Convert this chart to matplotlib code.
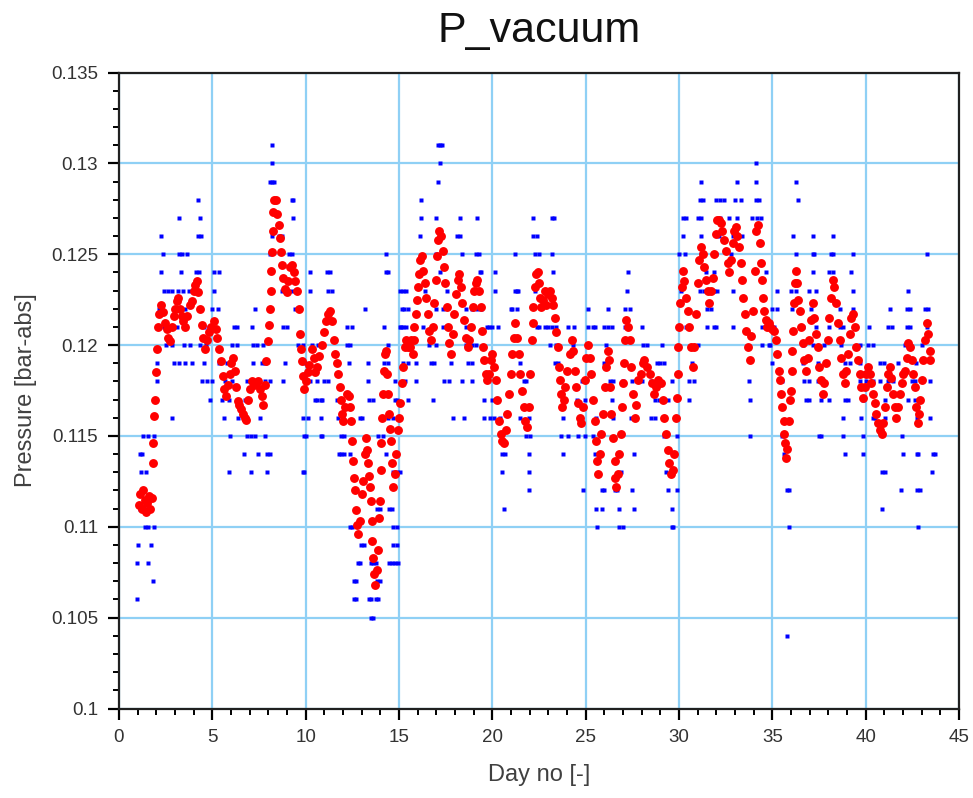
import numpy as np
import matplotlib
matplotlib.use("Agg")
import matplotlib.pyplot as plt
from matplotlib.ticker import MultipleLocator

plt.rcParams['font.family'] = ['Liberation Sans', 'DejaVu Sans']

# smoothed signal (red)
red_day = [
    1.05, 1.15, 1.22, 1.30, 1.38, 1.45, 1.52, 1.60, 1.68, 1.75, 1.80, 1.84, 1.88, 1.95, 2.00, 2.03,
    2.08, 2.15, 2.25, 2.35, 2.45, 2.55, 2.65, 2.73, 2.82, 2.92, 3.00, 3.10, 3.18, 3.28, 3.38, 3.45,
    3.55, 3.65, 3.78, 3.90, 4.00, 4.08, 4.18, 4.25, 4.33, 4.42, 4.52, 4.62, 4.72, 4.82, 4.95, 5.08,
    5.18, 5.27, 5.36, 5.45, 5.55, 5.64, 5.73, 5.82, 5.92, 6.02, 6.10, 6.20, 6.28, 6.36, 6.45, 6.55,
    6.65, 6.75, 6.82, 6.92, 7.00, 7.10, 7.22, 7.35, 7.45, 7.55, 7.65, 7.73, 7.82, 7.90, 7.97, 8.03,
    8.08, 8.12, 8.15, 8.19, 8.23, 8.27, 8.33, 8.40, 8.47, 8.55, 8.62, 8.68, 8.73, 8.81, 8.88, 8.98,
    9.08, 9.17, 9.27, 9.36, 9.45, 9.54, 9.62, 9.68, 9.73, 9.79, 9.85, 9.93, 10.03, 10.12, 10.20, 10.32,
    10.42, 10.52, 10.62, 10.72, 10.85, 11.00, 11.10, 11.20, 11.30, 11.40, 11.50, 11.58, 11.66, 11.75, 11.82, 11.88,
    11.94, 11.99, 12.10, 12.20, 12.30, 12.38, 12.43, 12.50, 12.53, 12.57, 12.63, 12.70, 12.77, 12.83, 12.90, 13.00,
    13.08, 13.16, 13.23, 13.29, 13.35, 13.40, 13.45, 13.49, 13.53, 13.58, 13.62, 13.66, 13.71, 13.80, 13.87, 13.93,
    13.97, 14.01, 14.06, 14.10, 14.15, 14.20, 14.24, 14.30, 14.36, 14.42, 14.47, 14.53, 14.59, 14.64, 14.69, 14.78,
    14.86, 14.92, 15.00, 15.07, 15.14, 15.21, 15.30, 15.39, 15.48, 15.57, 15.66, 15.74, 15.78, 15.83, 15.89, 15.96,
    16.01, 16.06, 16.13, 16.24, 16.31, 16.38, 16.45, 16.54, 16.63, 16.72, 16.81, 16.90, 16.99, 17.04, 17.10, 17.16,
    17.25, 17.34, 17.43, 17.49, 17.55, 17.62, 17.70, 17.78, 17.87, 17.96, 18.05, 18.14, 18.23, 18.32, 18.40, 18.49,
    18.58, 18.67, 18.76, 18.85, 18.94, 19.02, 19.12, 19.20, 19.29, 19.38, 19.44, 19.50, 19.56, 19.65, 19.74, 19.82,
    19.91, 20.00, 20.09, 20.18, 20.27, 20.35, 20.44, 20.53, 20.62, 20.71, 20.80, 20.89, 20.98, 21.06, 21.15, 21.24,
    21.33, 21.42, 21.50, 21.60, 21.68, 21.77, 21.86, 21.95, 22.04, 22.13, 22.17, 22.20, 22.27, 22.34, 22.42, 22.50,
    22.57, 22.63, 22.72, 22.81, 22.90, 22.99, 23.08, 23.17, 23.26, 23.35, 23.43, 23.52, 23.57, 23.61, 23.67, 23.74,
    23.83, 23.91, 24.02, 24.15, 24.27, 24.34, 24.41, 24.50, 24.59, 24.68, 24.77, 24.86, 24.95, 25.04, 25.12, 25.21,
    25.30, 25.39, 25.48, 25.53, 25.59, 25.66, 25.75, 25.84, 25.93, 26.01, 26.10, 26.19, 26.23, 26.28, 26.37, 26.46,
    26.55, 26.59, 26.64, 26.72, 26.81, 26.90, 26.95, 26.99, 27.05, 27.12, 27.17, 27.26, 27.35, 27.44, 27.53, 27.62,
    27.70, 27.79, 27.94, 28.06, 28.15, 28.28, 28.42, 28.53, 28.65, 28.78, 28.90, 29.01, 29.13, 29.22, 29.31, 29.40,
    29.48, 29.57, 29.66, 29.75, 29.84, 29.89, 29.93, 29.96, 30.02, 30.08, 30.14, 30.21, 30.29, 30.37, 30.46, 30.55,
    30.64, 30.73, 30.82, 30.91, 31.00, 31.09, 31.17, 31.26, 31.35, 31.44, 31.53, 31.62, 31.71, 31.80, 31.89, 31.98,
    32.06, 32.15, 32.24, 32.33, 32.42, 32.51, 32.60, 32.69, 32.78, 32.87, 32.95, 33.04, 33.13, 33.22, 33.30, 33.38,
    33.45, 33.52, 33.60, 33.69, 33.78, 33.87, 33.96, 34.05, 34.14, 34.23, 34.32, 34.40, 34.46, 34.52, 34.58, 34.65,
    34.73, 34.82, 34.90, 35.00, 35.09, 35.18, 35.27, 35.36, 35.42, 35.49, 35.54, 35.60, 35.63, 35.67, 35.72, 35.81,
    35.90, 35.95, 35.99, 36.04, 36.08, 36.13, 36.17, 36.20, 36.26, 36.32, 36.38, 36.49, 36.56, 36.64, 36.71, 36.78,
    36.89, 36.98, 37.07, 37.16, 37.25, 37.34, 37.43, 37.52, 37.61, 37.70, 37.79, 37.88, 37.97, 38.06, 38.15, 38.24,
    38.33, 38.42, 38.51, 38.60, 38.69, 38.78, 38.87, 38.96, 39.05, 39.14, 39.23, 39.32, 39.41, 39.50, 39.59, 39.68,
    39.77, 39.86, 39.95, 40.04, 40.13, 40.22, 40.31, 40.40, 40.49, 40.58, 40.67, 40.76, 40.85, 40.94, 41.03, 41.12,
    41.20, 41.29, 41.38, 41.47, 41.56, 41.65, 41.74, 41.83, 41.92, 42.01, 42.10, 42.19, 42.28, 42.37, 42.46, 42.55,
    42.64, 42.72, 42.79, 42.86, 42.93, 43.00, 43.09, 43.18, 43.27, 43.36, 43.42, 43.45,
]
red_p = [
    0.1112, 0.1118, 0.1110, 0.1120, 0.1115, 0.1108, 0.1113, 0.1117, 0.1110, 0.1116, 0.1135, 0.1146, 0.1161, 0.1170, 0.1185, 0.1198,
    0.1210, 0.1217, 0.1222, 0.1218, 0.1212, 0.1209, 0.1204, 0.1202, 0.1210, 0.1216, 0.1220, 0.1224, 0.1226, 0.1220, 0.1216, 0.1213,
    0.1210, 0.1216, 0.1222, 0.1224, 0.1230, 0.1233, 0.1235, 0.1229, 0.1220, 0.1211, 0.1204, 0.1198, 0.1203, 0.1207, 0.1210, 0.1213,
    0.1209, 0.1204, 0.1198, 0.1191, 0.1183, 0.1176, 0.1172, 0.1178, 0.1184, 0.1190, 0.1193, 0.1186, 0.1177, 0.1169, 0.1167, 0.1165,
    0.1162, 0.1160, 0.1159, 0.1170, 0.1176, 0.1180, 0.1178, 0.1179, 0.1180, 0.1176, 0.1172, 0.1167, 0.1178, 0.1191, 0.1202, 0.1211,
    0.1220, 0.1230, 0.1241, 0.1251, 0.1263, 0.1273, 0.1280, 0.1280, 0.1272, 0.1266, 0.1259, 0.1251, 0.1244, 0.1237, 0.1231, 0.1229,
    0.1235, 0.1243, 0.1244, 0.1240, 0.1235, 0.1230, 0.1220, 0.1206, 0.1198, 0.1191, 0.1183, 0.1176, 0.1180, 0.1185, 0.1189, 0.1198,
    0.1193, 0.1185, 0.1188, 0.1194, 0.1200, 0.1207, 0.1213, 0.1217, 0.1219, 0.1213, 0.1203, 0.1195, 0.1190, 0.1184, 0.1177, 0.1170,
    0.1162, 0.1158, 0.1166, 0.1173, 0.1172, 0.1166, 0.1158, 0.1147, 0.1136, 0.1127, 0.1120, 0.1109, 0.1101, 0.1096, 0.1103, 0.1118,
    0.1125, 0.1140, 0.1149, 0.1142, 0.1135, 0.1128, 0.1122, 0.1114, 0.1103, 0.1092, 0.1083, 0.1074, 0.1068, 0.1076, 0.1087, 0.1105,
    0.1114, 0.1131, 0.1146, 0.1160, 0.1173, 0.1186, 0.1195, 0.1197, 0.1184, 0.1173, 0.1162, 0.1154, 0.1147, 0.1135, 0.1122, 0.1129,
    0.1140, 0.1153, 0.1160, 0.1168, 0.1179, 0.1188, 0.1199, 0.1203, 0.1199, 0.1199, 0.1203, 0.1195, 0.1203, 0.1210, 0.1217, 0.1225,
    0.1232, 0.1239, 0.1247, 0.1249, 0.1241, 0.1234, 0.1226, 0.1217, 0.1208, 0.1203, 0.1210, 0.1223, 0.1236, 0.1249, 0.1258, 0.1263,
    0.1260, 0.1252, 0.1243, 0.1234, 0.1221, 0.1210, 0.1201, 0.1195, 0.1206, 0.1217, 0.1228, 0.1236, 0.1239, 0.1232, 0.1223, 0.1214,
    0.1204, 0.1199, 0.1203, 0.1210, 0.1221, 0.1230, 0.1234, 0.1236, 0.1230, 0.1221, 0.1208, 0.1199, 0.1192, 0.1184, 0.1181, 0.1184,
    0.1192, 0.1195, 0.1188, 0.1181, 0.1170, 0.1158, 0.1151, 0.1147, 0.1146, 0.1153, 0.1162, 0.1173, 0.1184, 0.1195, 0.1204, 0.1212,
    0.1204, 0.1195, 0.1184, 0.1175, 0.1166, 0.1158, 0.1155, 0.1166, 0.1184, 0.1203, 0.1212, 0.1221, 0.1232, 0.1239, 0.1240, 0.1234,
    0.1226, 0.1221, 0.1225, 0.1230, 0.1222, 0.1228, 0.1230, 0.1226, 0.1222, 0.1215, 0.1207, 0.1199, 0.1188, 0.1181, 0.1173, 0.1166,
    0.1170, 0.1177, 0.1186, 0.1195, 0.1203, 0.1197, 0.1186, 0.1177, 0.1168, 0.1160, 0.1157, 0.1166, 0.1181, 0.1193, 0.1200, 0.1193,
    0.1184, 0.1170, 0.1158, 0.1147, 0.1136, 0.1129, 0.1140, 0.1151, 0.1162, 0.1177, 0.1188, 0.1197, 0.1192, 0.1177, 0.1162, 0.1149,
    0.1136, 0.1127, 0.1122, 0.1129, 0.1140, 0.1151, 0.1166, 0.1179, 0.1190, 0.1203, 0.1214, 0.1210, 0.1203, 0.1188, 0.1173, 0.1160,
    0.1167, 0.1181, 0.1184, 0.1190, 0.1192, 0.1188, 0.1184, 0.1179, 0.1173, 0.1177, 0.1181, 0.1179, 0.1170, 0.1160, 0.1151, 0.1142,
    0.1135, 0.1129, 0.1131, 0.1140, 0.1160, 0.1171, 0.1184, 0.1199, 0.1210, 0.1223, 0.1232, 0.1241, 0.1235, 0.1226, 0.1219, 0.1210,
    0.1199, 0.1188, 0.1199, 0.1217, 0.1234, 0.1247, 0.1254, 0.1250, 0.1243, 0.1236, 0.1230, 0.1223, 0.1230, 0.1237, 0.1250, 0.1261,
    0.1269, 0.1269, 0.1267, 0.1263, 0.1258, 0.1252, 0.1245, 0.1240, 0.1247, 0.1256, 0.1263, 0.1265, 0.1260, 0.1254, 0.1245, 0.1236,
    0.1226, 0.1217, 0.1208, 0.1199, 0.1192, 0.1205, 0.1219, 0.1241, 0.1263, 0.1266, 0.1256, 0.1245, 0.1236, 0.1226, 0.1219, 0.1214,
    0.1210, 0.1212, 0.1210, 0.1209, 0.1208, 0.1203, 0.1195, 0.1186, 0.1181, 0.1173, 0.1166, 0.1158, 0.1151, 0.1146, 0.1138, 0.1143,
    0.1158, 0.1170, 0.1175, 0.1186, 0.1197, 0.1208, 0.1223, 0.1234, 0.1241, 0.1234, 0.1225, 0.1219, 0.1210, 0.1201, 0.1192, 0.1186,
    0.1193, 0.1203, 0.1214, 0.1223, 0.1215, 0.1206, 0.1199, 0.1188, 0.1181, 0.1173, 0.1179, 0.1190, 0.1203, 0.1215, 0.1226, 0.1236,
    0.1232, 0.1223, 0.1212, 0.1203, 0.1193, 0.1184, 0.1179, 0.1186, 0.1195, 0.1206, 0.1215, 0.1217, 0.1210, 0.1199, 0.1192, 0.1184,
    0.1177, 0.1171, 0.1177, 0.1184, 0.1188, 0.1184, 0.1179, 0.1173, 0.1168, 0.1162, 0.1157, 0.1153, 0.1151, 0.1157, 0.1166, 0.1177,
    0.1184, 0.1188, 0.1182, 0.1173, 0.1166, 0.1160, 0.1166, 0.1173, 0.1179, 0.1184, 0.1186, 0.1193, 0.1201, 0.1199, 0.1192, 0.1184,
    0.1177, 0.1166, 0.1157, 0.1162, 0.1170, 0.1181, 0.1192, 0.1203, 0.1212, 0.1206, 0.1197, 0.1192,
]

# raw samples (blue), quantised to 0.001 bar: days at which each level shows
blue_levels = [0.131, 0.130, 0.129, 0.128, 0.127, 0.126, 0.125, 0.124, 0.123, 0.122,
               0.121, 0.120, 0.119, 0.118, 0.117, 0.116, 0.115, 0.114, 0.113, 0.112,
               0.111, 0.110, 0.109, 0.108, 0.107, 0.106, 0.105, 0.104]
blue_days = [
    [8.22, 17.1, 17.2, 17.3],
    [8.22, 17.2, 34.15],
    [8.1, 8.2, 8.3, 17.1, 31.2, 33.1, 34.15, 36.26],
    [4.22, 9.25, 9.3, 16.2, 31.1, 31.3, 32.0, 32.2, 32.4, 33.0, 33.3, 34.1, 34.3, 36.35],
    [3.22, 4.32, 9.34, 16.2, 17.0, 18.27, 19.16, 22.2, 23.2, 23.3, 30.2, 30.35, 31.0, 31.2,
     32.2, 32.7, 33.1, 33.9, 34.2, 34.4],
    [2.26, 4.22, 4.4, 8.2, 8.55, 8.75, 16.13, 18.1, 18.27, 22.2, 22.4, 30.2, 31.2, 32.15,
     32.9, 33.4, 36.13, 37.16, 38.24],
    [2.37, 3.2, 3.35, 3.65, 8.1, 9.1, 9.25, 14.3, 17.0, 18.4, 19.1, 19.3, 21.2, 22.3, 22.5,
     23.2, 30.0, 30.3, 31.2, 32.0, 32.8, 36.26, 37.16, 37.25, 38.15, 38.24, 39.3, 43.27],
    [2.26, 3.33, 4.15, 4.27, 5.07, 5.34, 10.23, 11.12, 11.3, 14.3, 14.4, 17.2, 19.34, 19.4,
     20.14, 23.25, 27.27, 31.45, 31.9, 32.6, 34.64, 37.16, 38.06, 38.24, 39.2],
    [2.4, 2.6, 2.85, 3.15, 3.45, 3.74, 4.27, 5.07, 8.72, 9.25, 10.23, 11.2, 11.4, 15.07,
     15.24, 15.4, 16.4, 17.56, 19.16, 20.14, 21.2, 21.3, 21.4, 22.3, 27.2, 30.1, 31.1, 31.35,
     31.8, 31.9, 32.05, 32.9, 35.27, 35.99, 36.26, 36.98, 37.34, 39.3, 42.28],
    [2.13, 2.3, 3.0, 3.3, 3.56, 4.36, 5.0, 5.3, 7.3, 8.1, 9.43, 9.7, 13.2, 15.15, 15.25,
     15.5, 17.0, 17.38, 18.6, 18.9, 19.2, 19.4, 21.0, 21.06, 21.3, 25.12, 26.2, 27.1, 27.36,
     31.5, 31.7, 35.0, 35.27, 36.08, 37.07, 38.6, 39.3, 41.3, 42.2, 42.37, 43.18, 43.36],
    [2.05, 2.4, 2.7, 3.1, 4.55, 4.8, 6.14, 6.3, 7.1, 8.8, 8.98, 12.2, 12.5, 14.2, 15.06,
     15.1, 15.24, 15.4, 16.3, 17.38, 17.7, 18.6, 18.9, 19.7, 19.8, 20.0, 20.3, 22.4, 22.5,
     22.8, 23.0, 23.2, 23.4, 24.06, 24.4, 25.1, 25.4, 25.5, 26.0, 26.2, 26.4, 27.1, 28.0,
     30.4, 31.5, 31.9, 32.0, 32.9, 34.46, 35.09, 36.62, 37.34, 38.06, 38.6, 38.78, 39.4,
     40.2, 41.2, 41.4, 42.2, 42.37, 43.27],
    [2.5, 2.85, 3.47, 3.83, 4.36, 4.66, 6.05, 6.3, 7.2, 7.37, 7.74, 9.6, 9.88, 10.32, 10.68,
     12.2, 12.4, 14.4, 16.6, 17.0, 18.6, 18.9, 19.1, 23.1, 23.4, 24.3, 26.1, 28.06, 28.3,
     29.1, 31.0, 34.46, 34.82, 34.9, 36.62, 37.16, 37.79, 38.69, 39.68, 40.13, 40.4, 42.1, 43.0],
    [2.05, 2.94, 3.2, 3.56, 3.9, 4.53, 5.34, 5.78, 7.2, 7.66, 7.83, 8.9, 9.96, 12.3, 13.35,
     14.2, 14.4, 15.2, 15.5, 15.9, 16.7, 16.9, 17.8, 18.7, 18.9, 21.5, 23.35, 23.5, 25.98,
     28.06, 28.8, 29.0, 29.2, 30.7, 35.0, 36.62, 37.43, 38.87, 39.14, 39.68, 40.75, 41.0,
     41.75, 42.7],
    [2.05, 4.45, 4.7, 4.98, 5.7, 6.05, 6.86, 7.83, 8.1, 8.8, 10.23, 10.6, 11.0, 11.2, 13.35,
     14.8, 15.3, 15.9, 17.4, 17.7, 18.4, 18.9, 21.7, 21.8, 24.8, 26.3, 26.45, 27.0, 27.5,
     27.8, 28.0, 28.5, 29.65, 30.55, 30.8, 33.74, 35.54, 36.7, 36.98, 37.43, 39.7, 40.0,
     40.4, 40.75, 41.2, 41.47, 42.46, 42.64, 43.45],
    [4.9, 5.52, 5.87, 6.76, 10.5, 10.6, 10.8, 10.9, 11.7, 11.85, 13.4, 13.6, 14.8, 14.9,
     15.5, 16.8, 19.55, 20.0, 24.55, 24.95, 26.4, 28.7, 28.95, 29.4, 30.55, 33.83, 36.8,
     36.98, 37.6, 38.06, 38.87, 39.05, 39.86, 41.03, 42.28, 42.64],
    [2.86, 5.6, 6.4, 7.56, 9.87, 10.14, 10.8, 11.75, 12.0, 12.9, 13.0, 14.4, 14.7, 17.9,
     18.5, 19.55, 19.9, 20.1, 20.4, 21.5, 21.95, 23.8, 25.57, 26.46, 27.45, 27.6, 28.5,
     28.7, 38.78, 39.77, 40.4, 40.49, 41.03, 42.73, 43.45],
    [1.3, 1.55, 1.9, 5.96, 6.86, 7.05, 7.3, 7.83, 9.93, 10.02, 10.8, 10.86, 11.87, 12.06,
     13.9, 14.15, 21.8, 22.0, 23.7, 24.06, 24.6, 24.95, 25.4, 29.2, 29.9, 33.83, 35.54,
     37.52, 37.6, 38.78, 39.86, 41.92],
    [1.1, 1.25, 6.67, 7.47, 7.92, 8.1, 11.8, 11.9, 12.06, 12.4, 13.3, 14.3, 14.8, 20.5,
     20.7, 21.95, 23.8, 25.5, 27.6, 35.63, 38.87, 39.86, 42.0, 42.73, 42.82, 43.63, 43.7],
    [1.2, 1.45, 5.87, 7.08, 7.95, 9.84, 9.9, 14.7, 14.9, 15.07, 20.5, 21.95, 26.9, 29.3,
     40.85, 41.03, 43.54],
    [21.95, 24.86, 25.85, 26.0, 26.55, 26.7, 27.5, 29.4, 29.9, 35.8, 35.9, 41.89, 42.73, 42.9],
    [1.1, 1.38, 13.8, 14.0, 14.46, 14.6, 20.65, 25.57, 25.85, 26.8, 27.6, 29.6, 40.85],
    [1.38, 1.55, 1.9, 12.4, 12.5, 14.7, 14.9, 25.6, 26.8, 27.0, 29.6, 29.7, 35.9, 42.82],
    [1.03, 1.7, 12.95, 13.1, 14.7, 14.9],
    [0.94, 1.53, 12.8, 12.9, 13.5, 13.6, 13.75, 14.46, 14.6, 14.8, 14.95],
    [1.8, 12.6, 12.7, 13.8, 14.0],
    [0.94, 12.6, 12.7, 13.4, 13.5, 13.75, 13.9],
    [13.5, 13.6],
    [35.8],
]

blue_x = np.concatenate([np.array(d) for d in blue_days])
blue_y = np.concatenate([np.full(len(d), lv) for d, lv in zip(blue_days, blue_levels)])

fig = plt.figure(figsize=(9.73, 7.98), dpi=100)
ax = fig.add_axes([119 / 973, 1 - 708.5 / 798, 840 / 973, 636 / 798])

ax.plot(blue_x, blue_y, ls="none", marker="s", ms=2.8, color="#0000ff", mec="none")
ax.plot(red_day, red_p, ls="none", marker="o", ms=6.4, color="#ff0000", mec="none")

ax.set_xlim(0, 45)
ax.set_ylim(0.1, 0.135)
ax.xaxis.set_major_locator(MultipleLocator(5))
ax.xaxis.set_minor_locator(MultipleLocator(1))
ax.yaxis.set_major_locator(MultipleLocator(0.005))
ax.yaxis.set_minor_locator(MultipleLocator(0.001))
ax.yaxis.set_major_formatter(plt.FuncFormatter(lambda v, p: f"{v:g}"))

ax.grid(True, which="major", color="#8fd0f5", lw=1.6)
ax.set_axisbelow(True)
for s in ax.spines.values():
    s.set_linewidth(1.6)
    s.set_color("#202020")
ax.tick_params(which="major", direction="out", length=8, width=1.6, pad=7,
               labelsize=13.5, labelcolor="#333333", top=False, right=False)
ax.tick_params(which="minor", direction="out", length=4, width=1.4, top=False, right=False)

ax.set_title("P_vacuum", fontsize=31, pad=22, color="#111111")
ax.set_xlabel("Day no [-]", fontsize=17, color="#404040", labelpad=13)
ax.set_ylabel("Pressure [bar-abs]", fontsize=17, color="#404040", labelpad=10)

fig.savefig("out.png", dpi=100)
